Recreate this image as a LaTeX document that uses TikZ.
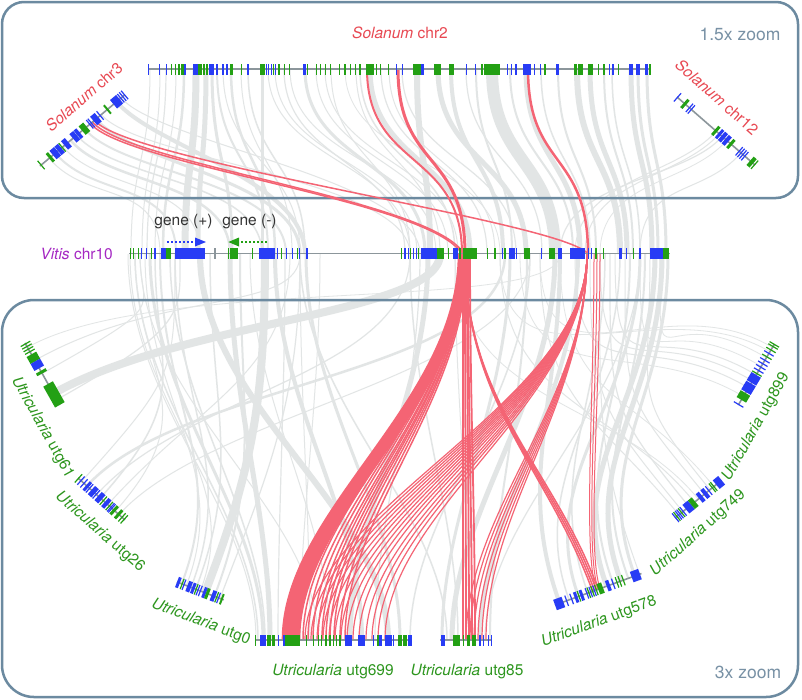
\documentclass[tikz,border=0pt]{standalone}
\usepackage{fontspec}
\setmainfont{TeX Gyre Heros}
\usetikzlibrary{calc}
\definecolor{gb}{RGB}{40,60,245}
\definecolor{gg}{RGB}{35,160,20}
\definecolor{tg}{RGB}{140,150,155}
\definecolor{ribgray}{RGB}{226,229,229}
\definecolor{ribred}{RGB}{244,100,116}
\definecolor{boxc}{RGB}{108,138,160}
\definecolor{solred}{RGB}{232,72,82}
\definecolor{utrgreen}{RGB}{45,150,30}
\definecolor{vitpurple}{RGB}{165,40,195}
\definecolor{zoomc}{RGB}{120,145,165}
\definecolor{legtext}{RGB}{50,50,50}
\newcommand\lblfont{\fontsize{15.5}{18}\selectfont}
\newcommand\zoomfont{\fontsize{17.5}{20}\selectfont}
\newcommand\GH{5.5}
\newcommand\genes[1]{\foreach \a/\b/\c in {#1} {\fill[\c] (\a,-\GH) rectangle (\b,\GH);}}
\newcommand\thins[1]{\foreach \a/\c in {#1} {\fill[\c] (\a-0.6,-\GH) rectangle (\a+0.6,\GH);}}
\def\Ka{150}\def\Kb{130}
\newcommand\TR[3]{\draw[grib,line width=#3] (#1,69) .. controls (#1,164) and (#2,159) .. (#2,254);}
\newcommand\TRa[5][grib]{\path[#2] (#3,0) coordinate (p) (#3,60) coordinate (q); \draw[#1,line width=#5] (p) .. controls (q) and (#4,180) .. (#4,254);}
\newcommand\BR[5][grib]{\path[#2] (#3,0) coordinate (p) (#3,-\Kb) coordinate (q); \draw[#1,line width=#5] (#4,254) .. controls (#4,254+\Ka) and (q) .. (p);}
\tikzset{
 grib/.style={draw=ribgray},
 rrib/.style={draw=ribred},
 trk/.style={draw=tg,line width=1.6},
 lbl/.style={font=\lblfont,inner sep=0pt},
 zoomlbl/.style={font=\zoomfont,text=zoomc,inner sep=0pt},
 panel/.style={draw=boxc,line width=2.5},
 c3/.style={shift={(40,166)},rotate=40},
 c12/.style={shift={(677,97)},rotate=-41.1},
 u61/.style={shift={(25,343)},rotate=-60.6},
 u26/.style={shift={(78,478)},rotate=-41.8},
 u0/.style={shift={(177,582)},rotate=-21},
 u699/.style={shift={(0,640)}},
 u578/.style={shift={(555,605)},rotate=20},
 u749/.style={shift={(675,518)},rotate=39},
 u899/.style={shift={(738.3,405)},rotate=59.3},
}
\begin{document}
\begin{tikzpicture}[x=1pt,y=-1pt]
\useasboundingbox (0,0) rectangle (802,699);
\fill[white] (0,0) rectangle (802,699);
% ---------- gray ribbons: top ----------
\TR{150}{131}{1}\TR{160}{142}{1}\TR{166}{147}{1.2}\TR{176}{155}{1}\TR{184}{163}{2.5}
\TR{196}{185}{7}\TR{206}{198}{5}\TR{212}{232}{3}\TR{217}{268}{2}\TR{223}{300}{1}
\TR{231}{275}{2.5}\TR{241}{292}{1}\TR{248}{305}{1.5}\TR{262}{262}{3}\TR{268}{410}{1}
\TR{275}{417}{1}\TR{284}{405}{1.2}\TR{290}{436}{1}\TR{305}{425}{3}\TR{316}{448}{1}
\TR{325}{458}{1}\TR{331}{410}{1}\TR{345}{500}{0.8}\TR{356}{440}{1}\TR{360}{455}{1.5}
\TR{370}{470}{5}\TR{381}{487}{1.2}\TR{389}{495}{1}\TR{402}{516}{1.2}\TR{417}{430}{6}
\TR{438}{526}{5}\TR{451}{503}{4}\TR{466}{542}{1.2}\TR{476}{512}{2}\TR{492}{555}{12}
\TR{510}{573}{2}\TR{526}{580}{5}\TR{541}{590}{1.5}\TR{558}{596}{2}\TR{577}{620}{6}
\TR{590}{627}{5}\TR{604}{633}{2}\TR{612}{640}{1.5}\TR{631}{652}{5}\TR{638}{658}{3}\TR{647}{666}{3}
\TRa{c3}{12}{160}{1}\TRa{c3}{20}{176}{2}\TRa{c3}{30}{200}{1}\TRa{c3}{40}{230}{2.5}
\TRa{c3}{48}{262}{1.5}\TRa{c3}{58}{286}{2}\TRa{c3}{73}{300}{3}\TRa{c3}{80}{410}{1}
\TRa{c3}{100}{305}{4}\TRa{c3}{106}{420}{1}
\TRa{c12}{52}{575}{1}\TRa{c12}{56}{585}{1}\TRa{c12}{60}{560}{1.2}\TRa{c12}{66}{600}{0.8}\TRa{c12}{85}{640}{1}
% ---------- gray ribbons: bottom ----------
\def\Ka{60}\def\Kb{150}
\BR{u61}{58}{440}{8}\BR{u61}{5}{560}{0.8}\BR{u61}{20}{300}{1}\BR{u61}{35}{140}{1}\BR{u61}{65}{180}{1.2}
\def\Ka{120}\def\Kb{140}
\BR{u26}{12}{505}{2.5}\BR{u26}{25}{410}{1.2}\BR{u26}{40}{290}{1}\BR{u26}{55}{530}{1}
\BR{u26}{5}{175}{1}\BR{u26}{30}{155}{1.5}\BR{u26}{50}{135}{1}
\def\Ka{150}\def\Kb{130}
\BR{u0}{5}{160}{2}\BR{u0}{15}{175}{1.5}\BR{u0}{30}{265}{8}\BR{u0}{40}{240}{2}\BR{u0}{46}{300}{1.2}
\BR{u0}{10}{145}{1}\BR{u0}{20}{210}{1.5}\BR{u0}{25}{130}{1}
\BR{u699}{258}{135}{1.5}\BR{u699}{263}{150}{3}\BR{u699}{270}{230}{5}\BR{u699}{278}{285}{1.2}
\BR{u699}{310}{300}{1}\BR{u699}{318}{140}{1}\BR{u699}{350}{428}{5}\BR{u699}{362}{275}{4}
\BR{u699}{375}{420}{1.2}\BR{u699}{388}{200}{6}\BR{u699}{400}{306}{3}\BR{u699}{410}{530}{1.5}
\BR{u699}{256}{128}{1}\BR{u699}{265}{170}{1.5}\BR{u699}{300}{320}{1}\BR{u699}{330}{250}{1}
\BR{u699}{442}{510}{3}\BR{u699}{452}{555}{5}\BR{u699}{458}{410}{1.5}\BR{u699}{480}{578}{4}\BR{u699}{490}{527}{2}
\BR{u699}{447}{300}{1.5}\BR{u699}{470}{455}{1}\BR{u699}{485}{640}{1.2}
\BR{u578}{5}{560}{4}\BR{u578}{15}{620}{1.5}\BR{u578}{25}{640}{3}\BR{u578}{55}{655}{5}
\BR{u578}{70}{662}{5}\BR{u578}{85}{668}{3}
\BR{u578}{35}{605}{1.5}\BR{u578}{62}{630}{2}\BR{u578}{78}{645}{2}\BR{u578}{90}{600}{1}
\BR{u749}{5}{540}{1}\BR{u749}{10}{590}{1}\BR{u749}{18}{610}{1.2}\BR{u749}{38}{625}{1}\BR{u749}{50}{560}{0.8}
\BR{u749}{25}{500}{1}\BR{u749}{30}{455}{0.8}\BR{u749}{45}{650}{1}
\BR{u899}{20}{575}{1}\BR{u899}{28}{600}{1}\BR{u899}{45}{640}{0.8}\BR{u899}{62}{500}{0.8}
\BR{u899}{10}{520}{0.8}\BR{u899}{35}{615}{1}\BR{u899}{55}{660}{0.8}\BR{u899}{67}{540}{0.8}
% ---------- panels ----------
\draw[panel,rounded corners=22] (2,2) rectangle (798,198);
\draw[panel,rounded corners=32] (2,300) rectangle (798,697);
% ---------- red ribbons: top ----------
\draw[rrib,line width=2] (367,69) .. controls (367,170) and (462,150) .. (462,254);
\draw[rrib,line width=3] (398,69) .. controls (398,170) and (465,150) .. (465,254);
\draw[rrib,line width=2.5] (528,69) .. controls (528,170) and (588,150) .. (588,254);
\path[c3] (66,0) coordinate (r1) (66,55) coordinate (r1c) (68.5,0) coordinate (r2) (68.5,55) coordinate (r2c) (71,0) coordinate (r3) (71,55) coordinate (r3c);
\draw[rrib,line width=1.5] (r1) .. controls (r1c) and (430,200) .. (462,254);
\draw[rrib,line width=1.5] (r2) .. controls (r2c) and (434,200) .. (464,254);
\draw[rrib,line width=1.5] (r3) .. controls (r3c) and (565,222) .. (588,254);
% ---------- red ribbons: bottom ----------
\foreach \t/\v in {283/459,285/460,287/461,289/462,291/463,293/464,295/465,297/466,299/467}{\BR[rrib]{u699}{\t}{\v}{2.6}}
\foreach \t/\v in {303/462,308/463,313/463,318/464,322/464,326/465,330/465,334/466,340/466,345/467}{\BR[rrib]{u699}{\t}{\v}{1.5}}
\foreach \t/\v in {463/463,466/465,469/467,472/468,475/470}{\BR[rrib]{u699}{\t}{\v}{1.8}}
\foreach \s in {40,42,44,46}{\BR[rrib]{u578}{\s}{465}{1.5}}
\foreach \t in {305,311,317,323,329,335,341,347,353,359,366,372,378,385}{\BR[rrib]{u699}{\t}{587}{1.2}}
\foreach \t in {466,470,474,478,482,486}{\BR[rrib]{u699}{\t}{587}{1.2}}
\def\Kb{40}
\foreach \s/\v in {44/594,46/597,48/600}{\BR[rrib]{u578}{\s}{\v}{1}}
\def\Kb{130}
% ---------- tracks ----------
\begin{scope}[shift={(0,69)}]
\draw[trk] (148,0) -- (651,0);
\genes{181/183.5/gg,183.5/186/gb,192.5/198/gb,198/202/gg,202.8/205/gg,205.8/207.5/gg,209.3/213.6/gb,215.7/218.2/gb,221.8/223.6/gb,230/232.5/gg,246.8/248.6/gb,260.4/264.6/gg,302.9/306.4/gb,365.7/374.3/gg,412.9/421/gg,421/423.6/gb,434.3/441.4/gg,448.6/453.9/gg,480.7/482.5/gg,484.3/500.4/gg,514.5/516.7/gb,522.9/530.7/gb,556.4/559.3/gb,573.6/577/gg,578/582.5/gg,587.9/593.2/gg,628.9/632.5/gb,636/639.6/gb,645/647.9/gb,649.3/651.4/gg}
\thins{148.8/gb,159.4/gb,166.5/gb,171.8/gg,175.4/gg,178.9/gg,227/gb,241.4/gg,266.3/gb,268.6/gb,271.1/gb,273.6/gg,275.5/gb,278.9/gg,284.3/gg,289.6/gg,307.6/gg,316.4/gg,320.7/gg,325.4/gg,330.7/gg,339.6/gg,345/gg,350.4/gg,355.7/gg,360/gg,376.4/gg,380.7/gg,388.6/gg,396.8/gb,402.1/gb,466.4/gb,475.4/gb,507.5/gb,511.1/gb,534.3/gb,540.7/gb,545/gg,598.6/gg,603.9/gg,609.3/gb,612.9/gb,618.2/gg}
\end{scope}
\begin{scope}[shift={(0,253.5)}]
\draw[trk] (129,0) -- (670,0);
\genes{161/166/gb,166/170.7/gg,175/205/gb,230/237.7/gg,259.3/275/gb,305.7/308.3/gb,421/436.7/gb,436.7/444/gg,453.3/458.3/gb,463.3/477.3/gg,509.3/515/gb,524/530/gg,549.3/555/gg,558.3/561.7/gb,570/585/gb,595/597.3/gg,619.3/621.7/gb,650/662.7/gb,663.3/669.3/gg}
\thins{130.1/gg,133.3/gg,138.3/gg,141.7/gb,146.7/gb,151.7/gg,155/gb,215/tg,228.3/gg,252.7/gg,277.7/gb,281.7/gg,286.7/gb,292.7/gb,297.3/gg,299.6/gb,401.7/gg,405/gb,408.3/gb,410.6/gg,413.3/gb,416.1/gb,418.3/gg,448.3/gg,460/gg,487.3/gg,495/gg,502.3/gb,505/gg,516.7/gb,541.7/gb,588.3/gb,591.7/gb,603.3/gg,626.7/gb,633.3/gg,640/gb}
\end{scope}
\begin{scope}[c3]
\draw[trk] (0,0) -- (111,0);
\genes{12/15/gg,17/23/gb,23.5/28/gb,32/37/gb,43/48/gb,48.5/52/gb,55/61/gg,70/76/gb,87/89/gg,96/104/gb}
\thins{1.5/gg,29/gg,65/gb,67/gb,78.5/gb,105.5/gb,108/gb,110.5/gb}
\end{scope}
\begin{scope}[c12]
\draw[trk] (0,0) -- (103.5,0);
\genes{9/12/gg,50/53/gg,55/58/gb,59/63/gb,64/68/gb,70/73/gg,97/101/gg}
\thins{0.6/gb,16.5/gb,19/gb,82.5/gb,85/gb,87.5/gb,90/gb,103/gg}
\end{scope}
\begin{scope}[u61]
\draw[trk] (0,0) -- (71,0);
\genes{13/21/gg,21/29/gb,32/35/gg,47/71/gg}
\thins{1/gg,4/gg,7/gg,10/gg}
\end{scope}
\begin{scope}[u26]
\draw[trk] (0,0) -- (63,0);
\genes{11/14/gb,18/23/gb,27/32/gb,36/40/gb,47/50/gg,53/56/gg}
\thins{0.6/gg,4/gb,8/gb,15.5/gb,24.5/gb,34/gg,42/gg,44/gb,45.5/gb,59/gg,62/gg}
\end{scope}
\begin{scope}[u0]
\draw[trk] (0,0) -- (50,0);
\genes{0/3/gb,11/15/gb,16/19/gb,28/31/gb,31/34/gg,37/41/gb,47/49/gg}
\thins{5.5/gg,7.5/gb,20.5/gg,22.5/gb,25/gb,42.5/gg,44.5/gb}
\end{scope}
\begin{scope}[u699]
\draw[trk] (255,0) -- (412,0);
\draw[trk] (440,0) -- (492,0);
\genes{260/266/gb,266.7/271/gg,271.5/275/gg,283.3/285/gb,285/290/gg,290/300/gg,345/351.7/gb,358.3/365/gb,376.7/378.5/gg,379/381.7/gb,385/391.7/gb,398.3/402/gg,403/406.7/gg,408.3/411.7/gb}
\thins{255.6/gg,278.6/gb,306.6/gg,313.3/gg,318.3/gg,321.7/gg,326/gg,330/gg,333.3/gg,336.7/gg,340/gg,373.3/gb,393.3/gb}
\genes{440.7/445/gb,453.3/460/gg,466.7/470/gg,471.7/476/gg}
\thins{463.6/gg,480/gb,483.3/gb,488.3/gb,491.4/gb}
\end{scope}
\begin{scope}[u578]
\draw[trk] (0,0) -- (92,0);
\genes{0/8.9/gb,21/24/gb,27/30/gb,46/51/gg,55/58.5/gb,81.6/90.4/gb}
\thins{12.4/gb,17.7/gb,25.5/gg,34/gb,36/gg,38/gb,40/gg,42/gb,44/gg,62/gb,66/gg,69/gg,72.7/gg}
\end{scope}
\begin{scope}[u749]
\draw[trk] (0,0) -- (60,0);
\genes{14/21/gb,21/26/gg,31/35/gb,37/41/gb,53/60/gb}
\thins{0.6/gb,2.5/gg,4.5/gb,6.5/gb,8.5/gg,10.5/gb,43.5/gb,48/gg,50/gg}
\end{scope}
\begin{scope}[u899]
\draw[trk] (0,0) -- (71,0);
\genes{6/14/gg,15/25/gb,25.8/35/gb}
\thins{0.6/gb,36.5/gg,40/gb,44/gb,48/gb,52/gb,56/gg,60/gb,64/gg,68/gg,70.5/gg}
\end{scope}
% ---------- legend ----------
\coordinate (bp1) at (167,242); \coordinate (bp2) at (196,242);
\coordinate (gp1) at (267,242); \coordinate (gp2) at (238,242);
\draw[gb,line width=1.6,dash pattern=on 1.6pt off 2.4pt] (bp1) -- (bp2);
\fill[gb] (195,237.5) -- (206,242) -- (195,246.5) -- cycle;
\draw[gg,line width=1.6,dash pattern=on 1.6pt off 2.4pt] (gp1) -- (gp2);
\fill[gg] (239,237.5) -- (228.3,242) -- (239,246.5) -- cycle;
% ---------- labels ----------
\node[lbl,text=solred] (lchr2) at (400,33) {\textit{Solanum} chr2};
\node[zoomlbl] (z1) at (740,34) {1.5x zoom};
\node[zoomlbl] (z2) at (748,672) {3x zoom};
\node[lbl,text=solred,rotate=40.7] (lchr3) at (84,97) {\textit{Solanum} chr3};
\node[lbl,text=solred,rotate=-41.5] (lchr12) at (717,97) {\textit{Solanum} chr12};
\node[lbl,text=vitpurple,anchor=east] (lvit) at (113,253.5) {\textit{Vitis} chr10};
\node[lbl,text=utrgreen,rotate=-61] (l61) at (42.5,427.5) {\textit{Utricularia} utg61};
\node[lbl,text=utrgreen,rotate=-41] (l26) at (100,532) {\textit{Utricularia} utg26};
\node[lbl,text=utrgreen,rotate=-21] (l0) at (201,622) {\textit{Utricularia} utg0};
\node[lbl,text=utrgreen] (l699) at (333,672) {\textit{Utricularia} utg699};
\node[lbl,text=utrgreen] (l85) at (467,672) {\textit{Utricularia} utg85};
\node[lbl,text=utrgreen,rotate=20] (l578) at (599,622) {\textit{Utricularia} utg578};
\node[lbl,text=utrgreen,rotate=41.6] (l749) at (698,533) {\textit{Utricularia} utg749};
\node[lbl,text=utrgreen,rotate=60.6] (l899) at (756,427) {\textit{Utricularia} utg899};
\node[lbl,text=legtext] (gplus) at (183.5,222) {gene (+)};
\node[lbl,text=legtext] (gminus) at (249.5,222) {gene (-)};
\end{tikzpicture}
\end{document}
